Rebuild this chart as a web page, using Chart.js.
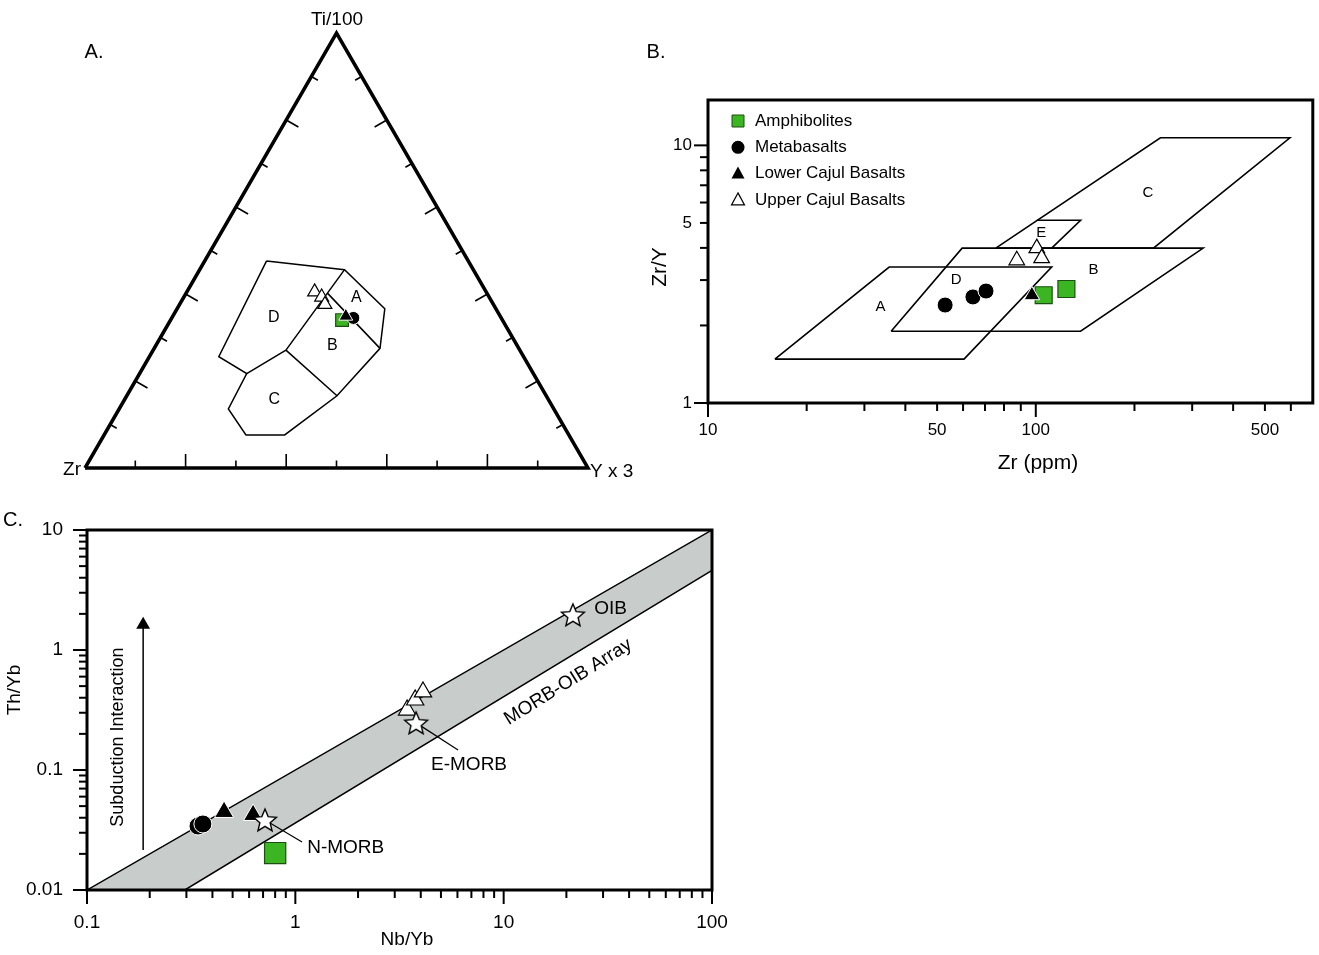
<!DOCTYPE html>
<html>
<head>
<meta charset="utf-8">
<script src="https://cdn.jsdelivr.net/npm/chart.js@4.4.0/dist/chart.umd.min.js"></script>
<style>
  body { margin: 0; background: #fff; width: 1319px; height: 955px; position: relative; overflow: hidden; }
  canvas { position: absolute; }
</style>
</head>
<body>
<canvas id="grafica_a" width="650" height="500" style="left:0px;top:0px"></canvas>
<canvas id="grafica_b" width="726" height="470" style="left:600px;top:20px"></canvas>
<canvas id="grafica_c" width="740" height="455" style="left:0px;top:500px"></canvas>
<script>

// ---------- A. Ti/100 - Zr - Y*3 (valores en %, orden Ti, Zr, Y) ----------
const bordeCamposA = [[47.6, 40.1, 12.3], [45.6, 25.6, 28.8], [36.6, 22.1, 41.3], [27.5, 27.6, 44.9],
    [16.6, 41.6, 41.8], [7.6, 56.5, 35.9], [7.6, 64.2, 28.2], [13.6, 64.7, 21.7],
    [21.7, 57.0, 21.3], [25.6, 60.6, 13.8], [47.6, 40.1, 12.3]];
const lineasInternasA = [
    [[21.7, 57.0, 21.3], [27.1, 46.5, 26.4]],
    [[27.1, 46.5, 26.4], [40.2, 31.7, 28.1]],
    [[40.2, 31.7, 28.1], [45.6, 25.6, 28.8]],
    [[40.2, 31.7, 28.1], [27.5, 27.6, 44.9]],
    [[27.1, 46.5, 26.4], [16.6, 41.6, 41.8]]
];
const nombresCamposA = ['A', 'B', 'C', 'D'];
const posCamposA = [[39.1, 26.5, 34.4], [28.1, 36.8, 35.1], [15.7, 54.5, 29.8], [34.5, 45.2, 20.3]];
const amphA = [[34.0, 31.9, 34.1]];
const metaA = [[34.5, 29.4, 36.1]];
const lcbA = [[34.9, 30.7, 34.4]];
const ucbA = [[40.5, 34.1, 25.4], [39.3, 33.3, 27.4], [37.6, 33.5, 28.9]];
const marcasTern = [10, 20, 30, 40, 50, 60, 70, 80, 90];
const marcasTernLargas = [20, 40, 60, 80];

// ---------- B. Zr/Y vs Zr ----------
const campoA_B = [[16.0, 1.48], [60.4, 1.48], [111.8, 3.37], [35.7, 3.37], [16.0, 1.48]];
const campoB_B = [[36.2, 1.90], [137, 1.90], [324, 3.99], [59.6, 3.99], [36.2, 1.90]];
const campoC_B = [[75.5, 3.99], [240, 10.7], [596, 10.7], [228.5, 3.99], [75.5, 3.99]];
const campoE_B = [[100.7, 5.12], [137, 5.12], [111.8, 3.99]];
const nombresCamposB = ['A', 'B', 'C', 'D', 'E'];
const posCamposB = [[33.6, 2.36], [150, 3.28], [220, 6.52], [57.2, 3.0], [104, 4.56]];
const amphB = [[105.7, 2.62], [124, 2.77]];
const metaB = [[52.9, 2.40], [64.3, 2.58], [70.5, 2.72]];
const lcbB = [[97.3, 2.62]];
const ucbB = [[87.5, 3.58], [100.7, 3.99], [104.2, 3.65]];
const marcasXB = [10, 20, 30, 40, 50, 60, 70, 80, 90, 100, 200, 300, 400, 500, 600];
const etiquetasXB = [10, 50, 100, 500];
const marcasYB = [1, 2, 3, 4, 5, 6, 7, 8, 9, 10];
const etiquetasYB = [1, 5, 10];
const nombresSerie = ['Amphibolites', 'Metabasalts', 'Lower Cajul Basalts', 'Upper Cajul Basalts'];

// ---------- C. Th/Yb vs Nb/Yb ----------
const bandaMorbOib = [[0.1, 0.01], [100, 10], [100, 4.6], [0.295, 0.01], [0.1, 0.01]];
const amphC = [[0.80, 0.0203]];
const metaC = [[0.341, 0.0341], [0.360, 0.0355]];
const lcbC = [[0.455, 0.0447], [0.627, 0.0422]];
const ucbC = [[3.44, 0.316], [3.76, 0.383], [4.10, 0.447]];
const refNombres = ['N-MORB', 'E-MORB', 'OIB'];
const refValores = [[0.715, 0.0383], [3.8, 0.247], [21.5, 1.96]];
const marcasXC = [0.1, 0.2, 0.3, 0.4, 0.5, 0.6, 0.7, 0.8, 0.9, 1, 2, 3, 4, 5, 6, 7, 8, 9, 10, 20, 30, 40, 50, 60, 70, 80, 90, 100];
const etiquetasXC = [0.1, 1, 10, 100];
const marcasYC = [0.01, 0.02, 0.03, 0.04, 0.05, 0.06, 0.07, 0.08, 0.09, 0.1, 0.2, 0.3, 0.4, 0.5, 0.6, 0.7, 0.8, 0.9,
    1, 2, 3, 4, 5, 6, 7, 8, 9, 10];
const etiquetasYC = [0.01, 0.1, 1, 10];


Chart.defaults.font.family = "'Liberation Sans', Arial, Helvetica, sans-serif";
Chart.defaults.color = '#000';
Chart.defaults.animation = false;
Chart.defaults.events = [];
Chart.defaults.plugins.legend.display = false;
Chart.defaults.plugins.tooltip.enabled = false;

const VERDE = '#3bb521';
const FUENTE = "'Liberation Sans', Arial, sans-serif";

const xy = lista => lista.map(p => ({ x: p[0], y: p[1] }));

const S3 = Math.sqrt(3) / 2;
function tern(p) {
    const s = p[0] + p[1] + p[2];
    const ti = p[0] / s * 100, y = p[2] / s * 100;
    return { x: y + ti / 2, y: ti * S3 };
}

function estrella(r) {
    const c = document.createElement('canvas');
    const s = Math.ceil(r * 2 + 4);
    c.width = s; c.height = s;
    const g = c.getContext('2d');
    g.beginPath();
    for (let i = 0; i < 10; i++) {
        const rr = i % 2 ? r * 0.45 : r;
        const a = -Math.PI / 2 + i * Math.PI / 5;
        g.lineTo(s / 2 + rr * Math.cos(a), s / 2 + 1 + rr * Math.sin(a));
    }
    g.closePath();
    g.fillStyle = '#fff'; g.fill();
    g.lineWidth = 1.4; g.strokeStyle = '#000'; g.stroke();
    return c;
}

const linea = (data, w) => ({ data, showLine: true, pointRadius: 0, borderColor: '#000', borderWidth: w, spanGaps: false, fill: false });

const serie = (data, tipo, r) => {
    const estilos = {
        amph: { pointStyle: 'rect', pointBackgroundColor: VERDE, pointBorderColor: '#1e4f12', pointBorderWidth: 1.2 },
        meta: { pointStyle: 'circle', pointBackgroundColor: '#000', pointBorderColor: '#fff', pointBorderWidth: 1 },
        lcb: { pointStyle: 'triangle', pointBackgroundColor: '#000', pointBorderColor: '#fff', pointBorderWidth: 1 },
        ucb: { pointStyle: 'triangle', pointBackgroundColor: '#fff', pointBorderColor: '#000', pointBorderWidth: 1.2 }
    };
    return Object.assign({ data, showLine: false, pointRadius: r }, estilos[tipo]);
};

// ejes log sin marcas propias; las marcas las dibuja el plugin 'ejes'
const ejeLog = (min, max, marcas, etiquetas, tam, pad, fija) => ({
    type: 'logarithmic', min, max,
    grid: { display: false, drawTicks: false }, border: { display: false },
    afterBuildTicks: s => { s.ticks = marcas.map(v => ({ value: v })); },
    afterFit: s => {
        if (s.isHorizontal()) { s.height = fija; s.paddingLeft = 0; s.paddingRight = 0; }
        else { s.width = fija; s.paddingTop = 0; s.paddingBottom = 0; }
    },
    ticks: {
        autoSkip: false, maxRotation: 0, padding: pad, font: { size: tam },
        callback: v => etiquetas.includes(v) ? String(v) : ''
    }
});

// textos en coordenadas de datos o de pixel
const textos = {
    id: 'textos',
    afterDatasetsDraw(chart, args, opts) {
        const { ctx, scales: { x, y } } = chart;
        ctx.save();
        ctx.fillStyle = '#000';
        (opts.items || []).forEach(t => {
            let px = t.px, py = t.py;
            if (t.d) { px = x.getPixelForValue(t.d[0]); py = y.getPixelForValue(t.d[1]); }
            ctx.save();
            ctx.translate(px, py);
            ctx.rotate((t.rot || 0) * Math.PI / 180);
            ctx.font = (t.size || 18) + 'px ' + FUENTE;
            ctx.textAlign = t.align || 'center';
            ctx.textBaseline = 'middle';
            ctx.fillText(t.t, 0, 0);
            ctx.restore();
        });
        ctx.restore();
    }
};

// marcas de ejes y marco
const ejes = {
    id: 'ejes',
    afterDraw(chart, args, o) {
        if (!o.xt) return;
        const { ctx, chartArea: a, scales: { x, y } } = chart;
        ctx.save();
        ctx.strokeStyle = '#000';
        ctx.lineWidth = 2;
        o.xt.forEach(v => {
            const p = x.getPixelForValue(v);
            const l = o.xm.includes(v) ? o.largo : o.corto;
            ctx.beginPath(); ctx.moveTo(p, a.bottom); ctx.lineTo(p, a.bottom + l); ctx.stroke();
        });
        o.yt.forEach(v => {
            const p = y.getPixelForValue(v);
            const l = o.ym.includes(v) ? o.largo : o.corto;
            ctx.beginPath(); ctx.moveTo(a.left, p); ctx.lineTo(a.left - l, p); ctx.stroke();
        });
        ctx.lineWidth = 3;
        ctx.strokeRect(a.left, a.top, a.right - a.left, a.bottom - a.top);
        ctx.restore();
    }
};

// leyenda del panel B
const leyendaB = {
    id: 'leyendaB',
    afterDraw(chart, args, o) {
        if (!o.nombres) return;
        const { ctx, chartArea: a } = chart;
        ctx.save();
        ctx.font = '17px ' + FUENTE;
        ctx.textBaseline = 'middle';
        o.nombres.forEach((n, i) => {
            const cx = a.left + 30, cy = a.top + 21 + i * 26.3;
            ctx.beginPath();
            if (i === 0) {
                ctx.rect(cx - 6, cy - 6, 12, 12);
                ctx.fillStyle = VERDE; ctx.fill();
                ctx.lineWidth = 1; ctx.strokeStyle = '#1e4f12'; ctx.stroke();
            } else if (i === 1) {
                ctx.arc(cx, cy, 6.5, 0, Math.PI * 2);
                ctx.fillStyle = '#000'; ctx.fill();
            } else {
                ctx.moveTo(cx, cy - 7); ctx.lineTo(cx + 6.5, cy + 5); ctx.lineTo(cx - 6.5, cy + 5); ctx.closePath();
                if (i === 2) { ctx.fillStyle = '#000'; ctx.fill(); }
                else { ctx.fillStyle = '#fff'; ctx.fill(); ctx.lineWidth = 1.2; ctx.strokeStyle = '#000'; ctx.stroke(); }
            }
            ctx.fillStyle = '#000';
            ctx.fillText(n, a.left + 47, cy);
        });
        ctx.restore();
    }
};

Chart.register(textos, ejes, leyendaB);


// ---------- grafica A ----------
const renderTernario = () => {

    const segs = [];
    marcasTern.forEach(t => {
        const l = marcasTernLargas.includes(t) ? 2.8 : 1.5;
        const bases = [
            [{ x: t / 2, y: t * S3 }, [S3, -0.5]],
            [{ x: 100 - t / 2, y: t * S3 }, [-S3, -0.5]],
            [{ x: t, y: 0 }, [0, 1]]
        ];
        bases.forEach(([b, d]) => {
            segs.push(b, { x: b.x + d[0] * l, y: b.y + d[1] * l }, { x: NaN, y: NaN });
        });
    });

    const internas = [];
    lineasInternasA.forEach(s => { internas.push(tern(s[0]), tern(s[1]), { x: NaN, y: NaN }); });

    const triangulo = [tern([0, 100, 0]), tern([100, 0, 0]), tern([0, 0, 100]), tern([0, 100, 0])];

    new Chart('grafica_a', {
        type: 'scatter',
        data: {
            datasets: [
                serie(ucbA.map(tern), 'ucb', 8),
                serie(lcbA.map(tern), 'lcb', 8),
                serie(metaA.map(tern), 'meta', 6.5),
                serie(amphA.map(tern), 'amph', 9),
                linea(bordeCamposA.map(tern), 1.5),
                linea(internas, 1.5),
                linea(segs, 1.6),
                linea(triangulo, 3.5)
            ]
        },
        options: {
            responsive: false,
            layout: { padding: { left: 85, right: 62, top: 33, bottom: 32 } },
            scales: {
                x: { type: 'linear', min: 0, max: 100, display: false },
                y: { type: 'linear', min: 0, max: 100 * S3, display: false }
            },
            datasets: { scatter: { clip: false } },
            plugins: {
                textos: {
                    items: nombresCamposA.map((n, i) => ({ t: n, d: [tern(posCamposA[i]).x, tern(posCamposA[i]).y], size: 16 }))
                        .concat([
                            { t: 'Ti/100', px: 337, py: 20, size: 19 },
                            { t: 'Zr', px: 81, py: 470, size: 19, align: 'right' },
                            { t: 'Y x 3', px: 590, py: 472, size: 19, align: 'left' },
                            { t: 'A.', px: 94, py: 52, size: 20 }
                        ])
                }
            }
        }
    });
};


// ---------- grafica B ----------
const renderZrY = () => {
    new Chart('grafica_b', {
        type: 'scatter',
        data: {
            datasets: [
                serie(xy(ucbB), 'ucb', 9),
                serie(xy(lcbB), 'lcb', 9),
                serie(xy(amphB), 'amph', 12),
                serie(xy(metaB), 'meta', 8),
                linea(xy(campoA_B), 1.6),
                linea(xy(campoB_B), 1.6),
                linea(xy(campoC_B), 1.6),
                linea(xy(campoE_B), 1.6)
            ]
        },
        options: {
            responsive: false,
            layout: { padding: { left: 0, right: 6, top: 80, bottom: 0 } },
            scales: {
                x: ejeLog(10, 700, marcasXB, etiquetasXB, 17, 17, 87),
                y: ejeLog(1, 15, marcasYB, etiquetasYB, 17, 16, 108)
            },
            plugins: {
                ejes: { xt: marcasXB, xm: [10, 100], yt: marcasYB, ym: [1, 10], largo: 14, corto: 8 },
                leyendaB: { nombres: nombresSerie },
                textos: {
                    items: nombresCamposB.map((n, i) => ({ t: n, d: posCamposB[i], size: 15 }))
                        .concat([
                            { t: 'Zr/Y', px: 60, py: 247, size: 21, rot: -90 },
                            { t: 'Zr (ppm)', px: 438, py: 443, size: 21 },
                            { t: 'B.', px: 56, py: 32, size: 20 }
                        ])
                }
            }
        }
    });
};


// ---------- grafica C ----------
const renderThNb = () => {
    const star = estrella(12);
    new Chart('grafica_c', {
        type: 'scatter',
        data: {
            datasets: [
                { data: xy(refValores), showLine: false, pointStyle: star, pointRadius: 12 },
                serie(xy(ucbC), 'ucb', 10),
                serie(xy(lcbC), 'lcb', 11),
                serie(xy(metaC), 'meta', 9),
                serie(xy(amphC), 'amph', 15),
                linea(xy([refValores[0], [1.077, 0.0251]]), 1.2),
                linea(xy([refValores[1], [6.04, 0.147]]), 1.2),
                Object.assign(linea(xy([[0.186, 0.0215], [0.186, 1.62]]), 1.5),
                    { pointRadius: [0, 8], pointStyle: 'triangle', pointBackgroundColor: '#000', pointBorderWidth: 0 }),
                Object.assign(linea(xy(bandaMorbOib), 1.5), { fill: 'shape', backgroundColor: '#c8cdcc' })
            ]
        },
        options: {
            responsive: false,
            layout: { padding: { left: 0, right: 28, top: 30, bottom: 0 } },
            scales: {
                x: ejeLog(0.1, 100, marcasXC, etiquetasXC, 19, 21, 65),
                y: ejeLog(0.01, 10, marcasYC, etiquetasYC, 19, 24, 87)
            },
            plugins: {
                ejes: { xt: marcasXC, xm: etiquetasXC, yt: marcasYC, ym: etiquetasYC, largo: 14, corto: 8 },
                textos: {
                    items: [
                        { t: refNombres[0], d: [1.14, 0.0224], size: 19, align: 'left' },
                        { t: refNombres[1], d: [6.82, 0.110], size: 19 },
                        { t: refNombres[2], d: [27.2, 2.2], size: 19, align: 'left' },
                        { t: 'MORB-OIB Array', d: [20.4, 0.541], size: 19, rot: -32 },
                        { t: 'Subduction Interaction', d: [0.141, 0.188], size: 18, rot: -90 },
                        { t: 'Th/Yb', px: 15, py: 190, size: 19, rot: -90 },
                        { t: 'Nb/Yb', px: 407, py: 440, size: 19 },
                        { t: 'C.', px: 13, py: 20, size: 20 }
                    ]
                }
            }
        }
    });
};

renderTernario();
renderZrY();
renderThNb();

</script>
</body>
</html>
